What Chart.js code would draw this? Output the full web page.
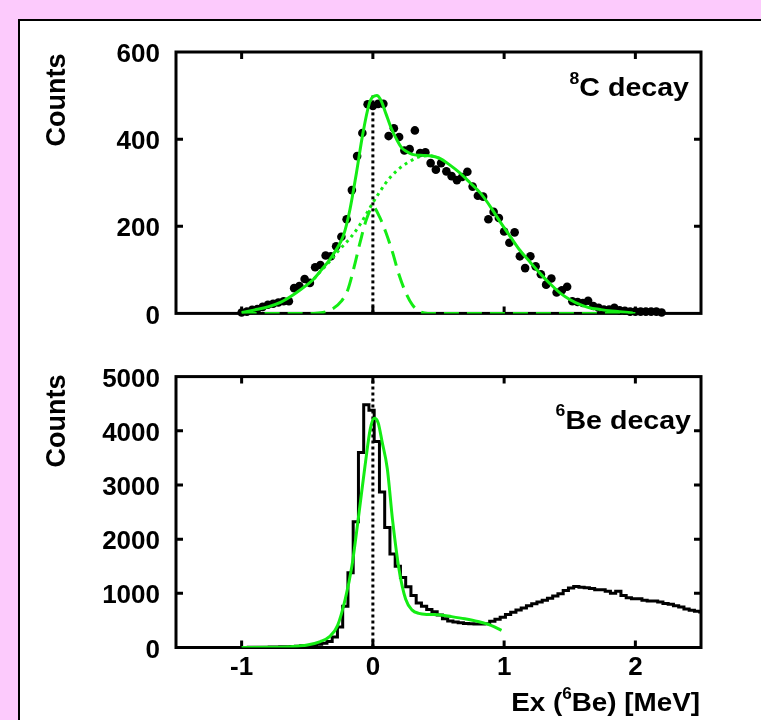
<!DOCTYPE html>
<html><head><meta charset="utf-8">
<script src="https://cdn.jsdelivr.net/npm/chart.js@4.4.0/dist/chart.umd.min.js"></script>
<style>
html,body{margin:0;padding:0;width:761px;height:720px;overflow:hidden;background:#fccafc;}
#box{position:absolute;left:18px;top:19px;width:800px;height:800px;background:#fff;border:2px solid #000;box-sizing:border-box;}
#c1{position:absolute;left:0;top:0;}
#c2{position:absolute;left:0;top:345px;}
</style></head><body>
<div id="box"></div>
<canvas id="c1" width="761" height="345"></canvas>
<canvas id="c2" width="761" height="375"></canvas>
<script>
// ---------- data: 8C decay (top panel) ----------
const c8X = [-1.00,-0.96,-0.92,-0.88,-0.84,-0.80,-0.76,-0.72,-0.68,-0.64,-0.60,-0.56,-0.52,-0.48,-0.44,-0.40,-0.36,-0.32,-0.28,-0.24,-0.20,-0.16,-0.12,-0.08,-0.04,0.00,0.04,0.08,0.12,0.16,0.20,0.24,0.28,0.32,0.36,0.40,0.44,0.48,0.52,0.56,0.60,0.64,0.68,0.72,0.76,0.80,0.84,0.88,0.92,0.96,1.00,1.04,1.08,1.12,1.16,1.20,1.24,1.28,1.32,1.36,1.40,1.44,1.48,1.52,1.56,1.60,1.64,1.68,1.72,1.76,1.80,1.84,1.88,1.92,1.96,2.00,2.04,2.08,2.12,2.16,2.20];
const c8Y = [2,4,8,10,15,20,22,25,28,28,58,63,79,70,106,111,133,131,154,176,216,283,361,414,480,476,481,481,407,425,405,374,377,420,368,370,345,330,345,326,315,306,313,325,291,270,268,216,233,219,188,162,186,131,104,131,108,90,66,80,48,53,61,28,26,24,29,17,13,9,9,13,7,6,4,4,4,4,4,4,2];

const c8FitX = [-1.00,-0.90,-0.80,-0.70,-0.60,-0.50,-0.45,-0.40,-0.33,-0.28,-0.225,-0.175,-0.125,-0.075,-0.02,0.03,0.06,0.10,0.14,0.18,0.22,0.26,0.30,0.36,0.43,0.51,0.58,0.66,0.74,0.82,0.90,0.97,1.05,1.12,1.20,1.27,1.35,1.43,1.50,1.58,1.65,1.73,1.80,1.88,1.98];
const c8FitY = [2,8,15,26,44,66,79,97,123,146,178,238,323,415,488,500,490,458,425,400,380,371,365,363,362,356,342,323,300,276,243,210,175,145,117,93,68,46,32,20,13,9,6,4,1];

const c8BroadX = [-0.45,-0.40,-0.33,-0.25,-0.17,-0.10,-0.05,0.00,0.05,0.10,0.18,0.26,0.36,0.43,0.51];
const c8BroadY = [79,96,119,148,174,203,228,254,278,300,327,345,360,362,356];

const c8NarrowX = [-1.00,-0.45,-0.38,-0.30,-0.24,-0.19,-0.14,-0.10,-0.05,0.00,0.05,0.10,0.15,0.20,0.25,0.30,0.36,0.42,2.00];
const c8NarrowY = [0,0,2,12,28,55,110,160,215,245,222,185,140,88,48,20,4,0,0];

const c8RefX = [0,0];
const c8RefY = [0,500];

// ---------- data: 6Be decay (bottom panel) ----------
const beBinX = [
-0.97,-0.93,-0.89,-0.85,-0.81,-0.77,-0.73,-0.69,
-0.65,-0.61,-0.57,-0.53,-0.49,-0.45,-0.41,-0.37,
-0.33,-0.29,-0.25,-0.21,-0.17,-0.13,-0.09,-0.05,
-0.01,0.03,0.07,0.11,0.15,0.19,0.23,0.27,
0.31,0.35,0.39,0.43,0.47,0.51,0.55,0.59,
0.63,0.67,0.71,0.75,0.79,0.83,0.87,0.91,
0.95,0.99,1.03,1.07,1.11,1.15,1.19,1.23,
1.27,1.31,1.35,1.39,1.43,1.47,1.51,1.55,
1.59,1.63,1.67,1.71,1.75,1.79,1.83,1.87,
1.91,1.95,1.99,2.03,2.07,2.11,2.15,2.19,
2.23,2.27,2.31,2.35,2.39,2.43,2.47,2.51];
const beCounts = [
2,3,4,5,6,8,10,12,
15,20,25,30,38,50,62,80,
110,195,380,760,1380,2320,3600,4480,
4380,3800,2870,2213,1725,1500,1290,1120,
960,820,760,700,660,600,530,490,
470,455,445,440,435,432,440,486,
520,560,610,650,690,730,770,809,
840,870,910,950,993,1050,1100,1126,
1110,1102,1090,1066,1066,1040,1000,1040,
960,920,901,901,870,857,857,839,
810,797,770,748,710,687,670,656];

const beFitX = [-1.00,-0.80,-0.63,-0.50,-0.40,-0.33,-0.27,-0.21,-0.16,-0.11,-0.06,-0.02,0.01,0.04,0.07,0.11,0.15,0.20,0.25,0.30,0.35,0.42,0.50,0.60,0.70,0.80,0.90,0.98];
const beFitY = [0,3,15,45,110,200,400,900,1500,2400,3350,4030,4230,4150,3800,3300,2350,1430,890,690,630,610,605,570,530,480,410,316];

const beRefX = [0,0];
const beRefY = [0,5000];

// ---------- ticks ----------
const xTickVals = [-1,0,1,2];
const xTickLabels = ['-1','0','1','2'];
const c8YTickVals = [0,200,400,600];
const beYTickVals = [0,1000,2000,3000,4000,5000];

// ---------- styling ----------
const FONT = "'Liberation Sans', Arial, sans-serif";
const GREEN = '#14ec14';
const zip = (xs, ys) => xs.map((x, i) => ({x: x, y: ys[i]}));

function framePlugin(yVals) {
  return {
    id: 'frame',
    beforeDatasetsDraw(chart) {
      const {ctx, chartArea: a, scales} = chart;
      const x = scales.x, y = scales.y;
      ctx.save();
      ctx.strokeStyle = '#000';
      ctx.lineWidth = 3;
      ctx.strokeRect(a.left, a.top, a.right - a.left, a.bottom - a.top);
      ctx.beginPath();
      xTickVals.forEach(v => {
        const p = x.getPixelForValue(v);
        ctx.moveTo(p, a.bottom); ctx.lineTo(p, a.bottom - 7);
        ctx.moveTo(p, a.top); ctx.lineTo(p, a.top + 7);
      });
      yVals.slice(1, -1).forEach(v => {
        const p = y.getPixelForValue(v);
        ctx.moveTo(a.left, p); ctx.lineTo(a.left + 7, p);
        ctx.moveTo(a.right, p); ctx.lineTo(a.right - 7, p);
      });
      ctx.stroke();
      ctx.restore();
    }
  };
}

function drawRich(ctx, parts, rightX, baseline, sx) {
  ctx.save();
  let total = 0;
  parts.forEach(p => { ctx.font = 'bold ' + p.size + 'px ' + FONT; p.w = ctx.measureText(p.t).width; total += p.w; });
  ctx.translate(rightX - total * sx, baseline);
  ctx.scale(sx, 1);
  ctx.fillStyle = '#000';
  ctx.textBaseline = 'alphabetic';
  ctx.textAlign = 'left';
  let xx = 0;
  parts.forEach(p => { ctx.font = 'bold ' + p.size + 'px ' + FONT; ctx.fillText(p.t, xx, p.dy); xx += p.w; });
  ctx.restore();
}

function drawVertical(ctx, text, cx, cy) {
  ctx.save();
  ctx.translate(cx, cy);
  ctx.rotate(-Math.PI / 2);
  ctx.font = 'bold 27px ' + FONT;
  ctx.fillStyle = '#000';
  ctx.textAlign = 'center';
  ctx.textBaseline = 'alphabetic';
  ctx.fillText(text, 0, 0);
  ctx.restore();
}

function yScale(min, max, vals) {
  return {
    type: 'linear', min: min, max: max,
    afterFit: s => { s.width = 176; },
    afterBuildTicks: s => { s.ticks = vals.map(v => ({value: v})); },
    grid: {display: false, drawTicks: false},
    border: {display: false},
    ticks: {color: '#000', font: {family: FONT, size: 26, weight: 'bold'}, padding: 16, labelOffset: 3,
            callback: v => String(v)}
  };
}

// ---------- top chart ----------
new Chart(document.getElementById('c1'), {
  type: 'scatter',
  data: {datasets: [
    {data: zip(c8FitX, c8FitY), showLine: true, borderColor: GREEN, borderWidth: 3, pointRadius: 0, cubicInterpolationMode: 'monotone'},
    {data: zip(c8RefX, c8RefY), showLine: true, borderColor: '#000', borderWidth: 3, borderDash: [3, 3], pointRadius: 0},
    {data: zip(c8NarrowX, c8NarrowY), showLine: true, borderColor: GREEN, borderWidth: 3, borderDash: [15, 8], pointRadius: 0, cubicInterpolationMode: 'monotone'},
    {data: zip(c8BroadX, c8BroadY), showLine: true, borderColor: GREEN, borderWidth: 3, borderDash: [3, 4], pointRadius: 0, cubicInterpolationMode: 'monotone'},
    {data: zip(c8X, c8Y), showLine: false, pointRadius: 4.3, pointBackgroundColor: '#000', pointBorderWidth: 0, clip: 8}
  ]},
  options: {
    responsive: false, animation: false, devicePixelRatio: 1,
    layout: {padding: {left: 0, right: 60, top: 52, bottom: 19}},
    plugins: {legend: {display: false}, tooltip: {enabled: false}},
    scales: {
      x: {type: 'linear', min: -1.5, max: 2.5, display: false},
      y: yScale(0, 600, c8YTickVals)
    }
  },
  plugins: [framePlugin(c8YTickVals), {
    id: 'texts1',
    afterDraw(chart) {
      const ctx = chart.ctx;
      drawRich(ctx, [{t: '8', size: 16, dy: -12}, {t: 'C decay', size: 26, dy: 0}], 689, 96, 1.1);
      drawVertical(ctx, 'Counts', 65, 100);
    }
  }]
});

// ---------- bottom chart ----------
new Chart(document.getElementById('c2'), {
  type: 'scatter',
  data: {datasets: [
    {data: zip(beFitX, beFitY), showLine: true, borderColor: GREEN, borderWidth: 3, pointRadius: 0, cubicInterpolationMode: 'monotone'},
    {data: zip(beRefX, beRefY), showLine: true, borderColor: '#000', borderWidth: 3, borderDash: [3, 3], pointRadius: 0},
    {data: zip(beBinX, beCounts), showLine: true, borderColor: '#000', borderWidth: 3, stepped: 'middle', pointRadius: 0}
  ]},
  options: {
    responsive: false, animation: false, devicePixelRatio: 1,
    layout: {padding: {left: 0, right: 60, top: 29.5, bottom: 0}},
    plugins: {legend: {display: false}, tooltip: {enabled: false}},
    scales: {
      x: {
        type: 'linear', min: -1.5, max: 2.5,
        afterFit: s => { s.height = 72.5; },
        afterBuildTicks: s => { s.ticks = xTickVals.map(v => ({value: v})); },
        grid: {display: false, drawTicks: false},
        border: {display: false},
        ticks: {color: '#000', font: {family: FONT, size: 26, weight: 'bold'}, padding: 5, maxRotation: 0, autoSkip: false,
                callback: v => xTickLabels[xTickVals.indexOf(v)]}
      },
      y: yScale(0, 5000, beYTickVals)
    }
  },
  plugins: [framePlugin(beYTickVals), {
    id: 'texts2',
    afterDraw(chart) {
      const ctx = chart.ctx;
      drawRich(ctx, [{t: '6', size: 16, dy: -13}, {t: 'Be decay', size: 26, dy: 0}], 691, 83.5, 1.1);
      drawVertical(ctx, 'Counts', 65, 76);
      drawRich(ctx, [{t: 'Ex (', size: 26, dy: 0}, {t: '6', size: 16, dy: -12}, {t: 'Be) [MeV]', size: 26, dy: 0}], 700, 366, 1.07);
    }
  }]
});
</script>
</body></html>
